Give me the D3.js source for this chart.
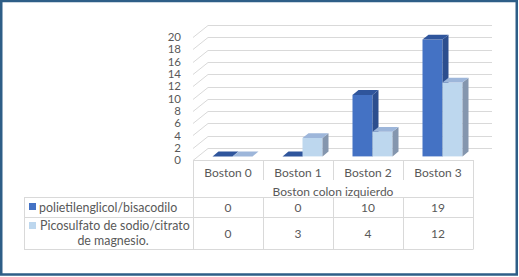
<!DOCTYPE html>
<html>
<head>
	<meta charset="utf-8">
	<title>Boston colon izquierdo</title>
	<script src="https://d3js.org/d3.v7.min.js"></script>
	<style>
		html, body {
			margin: 0;
			background: #fff;
		}
		text {
			font-family: Lato, "Liberation Sans", sans-serif;
			fill: #595959;
		}
	</style>
</head>
<body>
	<svg id="svg"></svg>
	<script>
		const categories = ["Boston 0", "Boston 1", "Boston 2", "Boston 3"];
		const seriesNames = ["polietilenglicol/bisacodilo", "Picosulfato de sodio/citrato de magnesio."];
		const poliValues = [0, 0, 10, 19];
		const picoValues = [0, 3, 4, 12];
		const yTicks = [0, 2, 4, 6, 8, 10, 12, 14, 16, 18, 20];
		const axisTitle = "Boston colon izquierdo";

		const W = 519, H = 277;
		const fontSize = 12;

		// 3d depth of the plot box
		const depthX = 15, depthY = -12;
		const barFront = 0.3, barBack = 0.7;

		const colors = [
			{front: "#4472c4", top: "#2f559c", side: "#2c4e8e"},
			{front: "#bdd7ee", top: "#9db6da", side: "#8496ae"}
		];

		const svg = d3.select("#svg")
			.attr("width", W)
			.attr("height", H);

		const x = d3.scaleBand()
			.domain(categories)
			.range([193, 473]);

		const xs = d3.scaleBand()
			.domain(seriesNames)
			.range([0, x.bandwidth()])
			.paddingOuter(0.75);

		const y = d3.scaleLinear()
			.domain([0, 20])
			.range([160, 37]);

		// walls / gridlines
		const grid = svg.append("g")
			.attr("stroke", "#d9d9d9")
			.attr("stroke-width", 1)
			.attr("fill", "none");

		yTicks.forEach(t => {
			const yy = Math.round(y(t)) + 0.5;
			grid.append("path")
				.attr("d", `M193,${yy}L${193 + depthX},${yy + depthY}L${473 + depthX + 4},${yy + depthY}`);
		});

		svg.append("g")
			.attr("transform", "translate(193,0)")
			.call(d3.axisLeft(y).tickValues(yTicks).tickSize(0).tickPadding(12))
			.call(g => g.select(".domain").remove())
			.selectAll("text")
			.attr("font-size", 11.5)
			.attr("font-family", null);

		// bars
		const data = [poliValues, picoValues];
		const fx = depthX * barFront, fy = depthY * barFront;
		const bx = depthX * barBack, by = depthY * barBack;

		categories.forEach((c, ci) => {
			seriesNames.forEach((s, si) => {
				const v = data[si][ci];
				const x0 = x(c) + xs(s), x1 = x0 + xs.bandwidth();
				const yt = y(v), y0 = y(0);
				const col = colors[si];
				const g = svg.append("g");
				if (v > 0) {
					g.append("rect")
						.attr("x", x0 + fx)
						.attr("y", yt + fy)
						.attr("width", x1 - x0)
						.attr("height", y0 - yt)
						.attr("fill", col.front);
					g.append("path")
						.attr("d", `M${x1 + fx},${yt + fy}L${x1 + bx},${yt + by}L${x1 + bx},${y0 + by}L${x1 + fx},${y0 + fy}Z`)
						.attr("fill", col.side);
				}
				g.append("path")
					.attr("d", `M${x0 + fx},${yt + fy}L${x0 + bx},${yt + by}L${x1 + bx},${yt + by}L${x1 + fx},${yt + fy}Z`)
					.attr("fill", col.top);
			});
		});

		// data table
		const tbl = svg.append("g")
			.attr("stroke", "#d9d9d9")
			.attr("stroke-width", 1)
			.attr("fill", "none");
		const rowTops = [197.5, 217.5, 249.5];
		tbl.append("path").attr("d", `M193,160.5H473`);
		tbl.append("path").attr("d", `M193.5,160V249.5M473.5,160V249.5`);
		rowTops.forEach(r => tbl.append("path").attr("d", `M24,${r}H473`));
		tbl.append("path").attr("d", `M24.5,197V249.5`);
		categories.slice(1).forEach(c => {
			const xx = Math.round(x(c)) + 0.5;
			tbl.append("path").attr("d", `M${xx},160V180M${xx},197V249.5`);
		});

		svg.append("g").selectAll("text")
			.data(categories)
			.join("text")
			.attr("x", d => x(d) + x.bandwidth() / 2)
			.attr("y", 177)
			.attr("text-anchor", "middle")
			.attr("font-size", fontSize)
			.text(d => d);

		svg.append("text")
			.attr("x", 333)
			.attr("y", 196)
			.attr("text-anchor", "middle")
			.attr("font-size", fontSize)
			.text(axisTitle);

		const rowY = [211.5, 237.5];
		data.forEach((vals, si) => {
			svg.append("g").selectAll("text")
				.data(vals)
				.join("text")
				.attr("x", (d, i) => x(categories[i]) + x.bandwidth() / 2)
				.attr("y", rowY[si])
				.attr("text-anchor", "middle")
				.attr("font-size", fontSize)
				.text(d => d);
		});

		// series labels with keys
		const labelSize = 12.4;
		svg.append("rect").attr("x", 29).attr("y", 203).attr("width", 7).attr("height", 7).attr("fill", colors[0].front);
		svg.append("text")
			.attr("x", 39).attr("y", 211.5)
			.attr("font-size", labelSize)
			.text(seriesNames[0]);

		svg.append("rect").attr("x", 29).attr("y", 222).attr("width", 7).attr("height", 7).attr("fill", colors[1].front);
		svg.append("text")
			.attr("x", 40).attr("y", 230)
			.attr("font-size", labelSize)
			.text("Picosulfato de sodio/citrato");
		svg.append("text")
			.attr("x", 113).attr("y", 244.5)
			.attr("text-anchor", "middle")
			.attr("font-size", labelSize)
			.text("de magnesio.");

		// frame
		svg.append("rect")
			.attr("x", 1.25).attr("y", 1)
			.attr("width", 515.5).attr("height", 273.5)
			.attr("fill", "none")
			.attr("stroke", "#2e5e87")
			.attr("stroke-width", 2.5);
	</script>
</body>
</html>
